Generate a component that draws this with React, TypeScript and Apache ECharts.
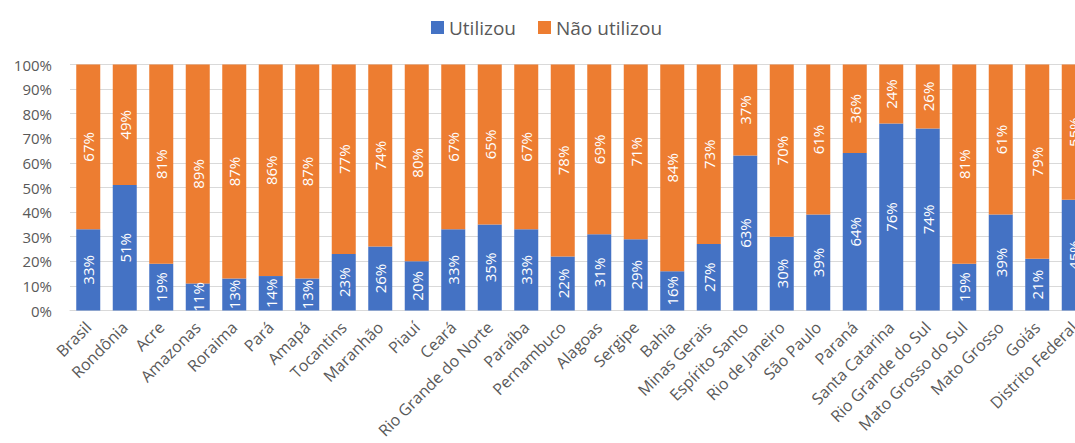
import React, { useEffect, useRef } from "react";
import * as echarts from "echarts";

const categories = [
  "Brasil", "Rondônia", "Acre", "Amazonas", "Roraima", "Pará", "Amapá", "Tocantins",
  "Maranhão", "Piauí", "Ceará", "Rio Grande do Norte", "Paraíba", "Pernambuco",
  "Alagoas", "Sergipe", "Bahia", "Minas Gerais", "Espírito Santo", "Rio de Janeiro",
  "São Paulo", "Paraná", "Santa Catarina", "Rio Grande do Sul", "Mato Grosso do Sul",
  "Mato Grosso", "Goiás", "Distrito Federal",
];

const utilizou = [33, 51, 19, 11, 13, 14, 13, 23, 26, 20, 33, 35, 33, 22, 31, 29, 16, 27, 63, 30, 39, 64, 76, 74, 19, 39, 21, 45];
const naoUtilizou = [67, 49, 81, 89, 87, 86, 87, 77, 74, 80, 67, 65, 67, 78, 69, 71, 84, 73, 37, 70, 61, 36, 24, 26, 81, 61, 79, 55];

const seriesNames = ["Utilizou", "Não utilizou"];
const colors = ["#4472C4", "#ED7D31"];

const FONT = "'Open Sans', sans-serif";

export default function App() {
  const ref = useRef<HTMLDivElement>(null);

  useEffect(() => {
    if (!ref.current) return;
    const chart = echarts.init(ref.current, undefined, { renderer: "svg" });
    const label = {
      show: true,
      position: "inside",
      rotate: 90,
      color: "#ffffff",
      fontFamily: FONT,
      fontSize: 15,
      formatter: (p: any) => `${p.value}%`,
    };
    chart.setOption({
      animation: false,
      color: colors,
      textStyle: { fontFamily: FONT },
      legend: {
        data: seriesNames,
        left: 426,
        top: 13,
        itemWidth: 13,
        itemHeight: 13,
        itemGap: 22,
        icon: "rect",
        textStyle: { color: "#595959", fontSize: 19, fontFamily: FONT },
      },
      grid: { left: 70, right: 0, top: 64.5, bottom: 132.5, containLabel: false },
      xAxis: {
        type: "category",
        data: categories,
        axisLine: { show: true, lineStyle: { color: "#d9d9d9" } },
        axisTick: { show: false },
        axisLabel: {
          interval: 0,
          rotate: 45,
          margin: 14,
          color: "#595959",
          fontSize: 16,
          fontFamily: FONT,
        },
      },
      yAxis: {
        type: "value",
        min: 0,
        max: 100,
        interval: 10,
        axisLine: { show: false },
        axisTick: { show: false },
        splitLine: { lineStyle: { color: "#d9d9d9" } },
        axisLabel: {
          margin: 18,
          color: "#595959",
          fontSize: 15,
          fontFamily: FONT,
          formatter: "{value}%",
        },
      },
      series: [
        {
          name: seriesNames[0],
          type: "bar",
          stack: "total",
          barWidth: 24,
          data: utilizou,
          label,
        },
        {
          name: seriesNames[1],
          type: "bar",
          stack: "total",
          barWidth: 24,
          data: naoUtilizou,
          label,
        },
      ],
    });
    return () => chart.dispose();
  }, []);

  return (
    <div
      style={{ position: "fixed", left: 0, top: 0, width: 1075, height: 443, overflow: "hidden", background: "#fff" }}
    >
      <div ref={ref} style={{ width: 1092, height: 443 }} />
    </div>
  );
}
